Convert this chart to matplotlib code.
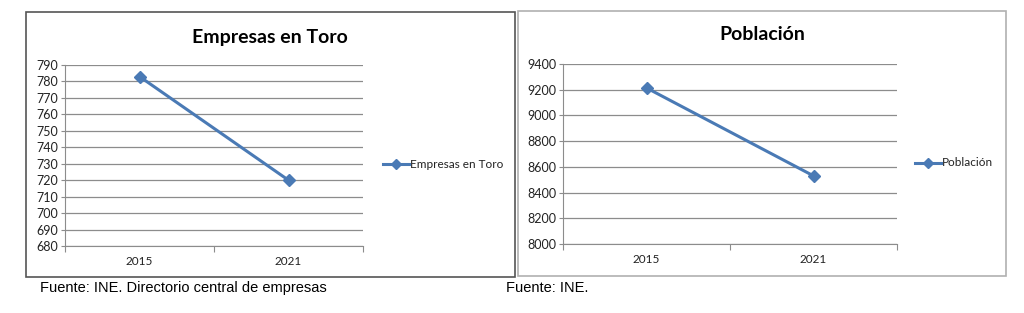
import matplotlib.pyplot as plt
from matplotlib.patches import Rectangle

years = ['2015', '2021']
empresas = [783, 720]
poblacion = [9214, 8530]

W, H = 1024, 313
line_color = '#4A7AB5'
grid_color = '#8c8c8c'
txt_font = ['Lato', 'DejaVu Sans']


def px(x0, y0, x1, y1):
    # pixel box -> figure fraction [left, bottom, width, height]
    return [x0 / W, 1 - y1 / H, (x1 - x0) / W, (y1 - y0) / H]


def draw_chart(fig, rect, values, label, title, ylim, step, title_xy, leg_xy):
    ax = fig.add_axes(rect)
    ax.plot([0, 1], values, color=line_color, lw=2.2, marker='D', ms=6,
            markerfacecolor=line_color, markeredgecolor=line_color)
    ax.set_xlim(-0.5, 1.5)
    ax.set_ylim(*ylim)
    ax.set_yticks(range(ylim[0], ylim[1] + 1, step))
    ax.yaxis.grid(True, color=grid_color, lw=0.9)
    ax.set_axisbelow(True)
    for s in ['top', 'right']:
        ax.spines[s].set_visible(False)
    for s in ['left', 'bottom']:
        ax.spines[s].set_color(grid_color)
    ax.set_xticks([-0.5, 0.5, 1.5])
    ax.set_xticklabels([])
    ax.tick_params(axis='x', length=4, color=grid_color, direction='out')
    ax.tick_params(axis='y', length=3, color=grid_color, labelsize=9,
                   labelcolor='#222222', pad=2)
    for lab in ax.get_yticklabels():
        lab.set_family(txt_font)
    for i, y in enumerate(years):
        ax.text(i, -0.055, y, transform=ax.get_xaxis_transform(), ha='center',
                va='top', fontsize=8.5, color='#222222', family=txt_font)
    fig.text(title_xy[0] / W, 1 - title_xy[1] / H, title, ha='center',
             va='center', fontsize=14, fontweight='bold', family=txt_font)
    # legend entry
    lx, ly = leg_xy
    fig.lines.append(plt.Line2D([lx / W, (lx + 26) / W], [1 - ly / H] * 2,
                                color=line_color, lw=2.2,
                                transform=fig.transFigure))
    fig.lines.append(plt.Line2D([(lx + 13) / W], [1 - ly / H], color=line_color,
                                marker='D', ms=5, lw=0,
                                transform=fig.transFigure))
    fig.text((lx + 27) / W, 1 - ly / H, label, ha='left', va='center',
             fontsize=8.5, color='#222222', family=txt_font)
    return ax


fig = plt.figure(figsize=(W / 100, H / 100), dpi=100)

# panel frames
fig.patches.append(Rectangle((26 / W, 1 - 277 / H), (515 - 26) / W, (277 - 12) / H,
                             transform=fig.transFigure, fill=False,
                             edgecolor='#555555', lw=1.2))
fig.patches.append(Rectangle((518 / W, 1 - 276 / H), (1006 - 518) / W, (276 - 11) / H,
                             transform=fig.transFigure, fill=False,
                             edgecolor='#b0b0b0', lw=1.2))

draw_chart(fig, px(65, 65, 363, 246), empresas, 'Empresas en Toro',
           'Empresas en Toro', (680, 790), 10, (270, 37), (383, 164))
draw_chart(fig, px(563, 64, 897, 244), poblacion, 'Población',
           'Población', (8000, 9400), 200, (762, 35), (915, 163))

fig.text(40 / W, 1 - 288 / H, 'Fuente: INE. Directorio central de empresas',
         ha='left', va='center', fontsize=10.5, family='Liberation Sans')
fig.text(506 / W, 1 - 288 / H, 'Fuente: INE.', ha='left', va='center',
         fontsize=10.5, family='Liberation Sans')

fig.savefig('out.png', dpi=100)
